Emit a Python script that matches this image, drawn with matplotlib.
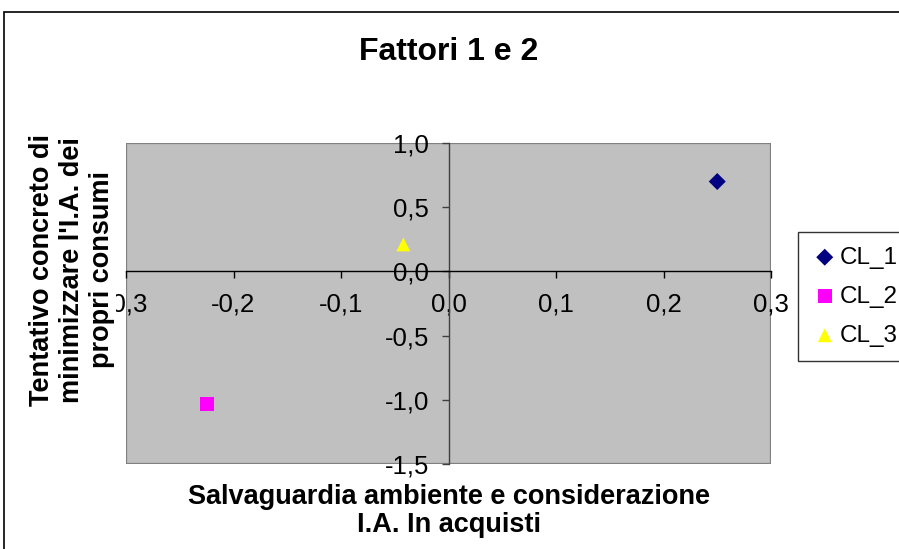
import matplotlib
matplotlib.use("Agg")
import matplotlib.pyplot as plt
from matplotlib.patches import Rectangle
from matplotlib.ticker import FuncFormatter

plt.rcParams['font.family'] = ['Liberation Sans', 'DejaVu Sans']

# cluster centroids on factor 1 (x) and factor 2 (y)
labels = ['CL_1', 'CL_2', 'CL_3']
fattore1 = [0.25, -0.225, -0.042]
fattore2 = [0.70, -1.03, 0.21]
markers = ['D', 's', '^']
colors = ['#000080', '#FF00FF', '#FFFF00']

xticks = [-0.3, -0.2, -0.1, 0.0, 0.1, 0.2, 0.3]
yticks = [-1.5, -1.0, -0.5, 0.0, 0.5, 1.0]


def virgola(v, pos):
    if abs(v) < 1e-9:
        v = 0.0
    return f"{v:.1f}".replace('.', ',')


fig = plt.figure(figsize=(8.99, 5.49), dpi=100)

# outer chart frame
fig.patches.append(Rectangle((4 / 899, -0.2), 1.2, 1.2 - 12 / 549,
                             transform=fig.transFigure, fill=False,
                             edgecolor='black', linewidth=1.2))

ax = fig.add_axes([126 / 899, 1 - 464 / 549, 645 / 899, 321 / 549])
ax.set_facecolor('#C0C0C0')
ax.add_patch(Rectangle((0, 0), 1, 1, transform=ax.transAxes, fill=False,
                       edgecolor='#808080', linewidth=1.6, zorder=1))

for lab, x, y, m, c in zip(labels, fattore1, fattore2, markers, colors):
    ax.scatter([x], [y], marker=m, s=100 if m != 'D' else 75, color=c,
               edgecolors='none', label=lab, zorder=3)

ax.set_xlim(-0.3, 0.3)
ax.set_ylim(-1.5, 1.0)
ax.set_xticks(xticks)
ax.set_yticks(yticks)
ax.xaxis.set_major_formatter(FuncFormatter(virgola))
ax.yaxis.set_major_formatter(FuncFormatter(virgola))

# axes cross at the origin
ax.spines['left'].set_position(('data', 0))
ax.spines['bottom'].set_position(('data', 0))
ax.spines['top'].set_visible(False)
ax.spines['right'].set_visible(False)
ax.spines['left'].set_color('#404040')
ax.spines['bottom'].set_color('black')
for s in ('left', 'bottom'):
    ax.spines[s].set_linewidth(1.0)
    ax.spines[s].set_zorder(2)
ax.tick_params(axis='both', direction='out', length=5, width=1,
               labelsize=18.5, labelcolor='black')
ax.tick_params(axis='y', pad=9, color='#404040')
ax.tick_params(axis='x', pad=10, color='black')

fig.text(449 / 899, 1 - 52 / 549, 'Fattori 1 e 2', ha='center', va='center',
         fontsize=23, fontweight='bold')
fig.text(449 / 899, 1 - 511 / 549,
         'Salvaguardia ambiente e considerazione\nI.A. In acquisti',
         ha='center', va='center', fontsize=19.5, fontweight='bold',
         linespacing=1.15)
fig.text(72 / 899, 1 - 270 / 549,
         "Tentativo concreto di\nminimizzare l'I.A. dei\npropri consumi",
         ha='center', va='center', rotation=90, fontsize=19.5,
         fontweight='bold', linespacing=1.2, zorder=5,
         bbox=dict(facecolor='white', edgecolor='none', pad=1))

leg = ax.legend(loc='upper left', bbox_to_anchor=(798 / 899, 1 - 232 / 549),
                bbox_transform=fig.transFigure, fontsize=17.5, frameon=True,
                fancybox=False, edgecolor='black', handletextpad=0.1,
                handlelength=1.0, labelspacing=0.7, borderpad=0.6,
                borderaxespad=0)
leg.get_frame().set_linewidth(1.0)

fig.savefig('out.png', dpi=100)
